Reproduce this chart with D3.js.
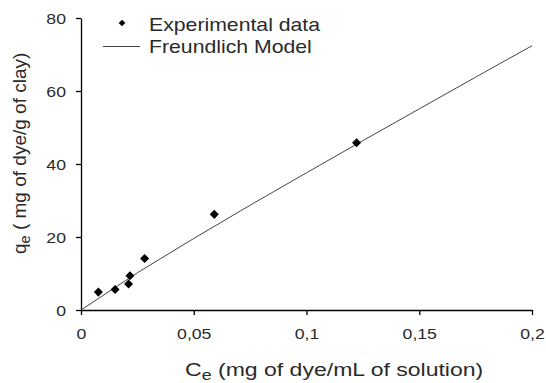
<!DOCTYPE html>
<html>
<head>
<meta charset="utf-8">
<script src="https://cdn.jsdelivr.net/npm/d3@7"></script>
<style>
  html, body { margin: 0; padding: 0; background: #fff; }
  svg { display: block; font-family: "Liberation Sans", Arial, sans-serif; }
</style>
</head>
<body>
<div id="chart"></div>
<script>
// experimental points (Ce, qe)
const expCe = [0.0077, 0.0151, 0.0211, 0.0217, 0.0282, 0.0591, 0.1222];
const expQe = [4.9, 5.6, 7.1, 9.4, 14.1, 26.2, 45.8];

// Freundlich model curve
const modelCe = [0, 0.025, 0.05, 0.075, 0.1, 0.125, 0.15, 0.175, 0.2];
const modelQe = [0, 10.2, 19.6, 28.7, 37.6, 46.4, 55.1, 63.8, 72.4];

const xTicks = [0, 0.05, 0.1, 0.15, 0.2];
const xTickLabels = ['0', '0,05', '0,1', '0,15', '0,2'];
const yTicks = [0, 20, 40, 60, 80];

const width = 546, height = 383;
const sx = 1.22; // the source picture looks stretched horizontally
const ink = '#2a2a2a';

const svg = d3.select('#chart').append('svg')
  .attr('width', width)
  .attr('height', height);

const x = d3.scaleLinear().domain([0, 0.2]).range([81, 532]);
const y = d3.scaleLinear().domain([0, 80]).range([310, 18]);

// axes
const xAxis = svg.append('g')
  .attr('transform', `translate(0,${y(0)})`)
  .call(d3.axisBottom(x).tickValues(xTicks)
    .tickFormat((d, i) => xTickLabels[i])
    .tickSizeInner(5).tickSizeOuter(0));

const yAxis = svg.append('g')
  .attr('transform', `translate(${x(0)},0)`)
  .call(d3.axisLeft(y).tickValues(yTicks)
    .tickSizeInner(5).tickSizeOuter(0));

[xAxis, yAxis].forEach(g => {
  g.select('.domain').attr('stroke', '#000').attr('stroke-width', 1.3);
  g.selectAll('.tick line').attr('stroke', '#000').attr('stroke-width', 1.3);
  g.selectAll('text')
    .attr('fill', ink)
    .style('font-size', '14.5px')
    .style('font-family', '"Liberation Sans", Arial, sans-serif');
});

xAxis.selectAll('text')
  .attr('y', 0).attr('dy', null)
  .attr('transform', `translate(0,29) scale(${sx},1)`);

yAxis.selectAll('text')
  .attr('x', 0).attr('dy', '0.35em')
  .attr('transform', `translate(-15,0) scale(${sx},1)`);

// model line
const line = d3.line()
  .x(i => x(modelCe[i]))
  .y(i => y(modelQe[i]));

svg.append('path')
  .datum(d3.range(modelCe.length))
  .attr('fill', 'none')
  .attr('stroke', '#444')
  .attr('stroke-width', 1)
  .attr('d', line);

// experimental points
const diamond = d3.symbol().type(d3.symbolDiamond2).size(52);

svg.append('g')
  .selectAll('path')
  .data(d3.range(expCe.length))
  .join('path')
  .attr('d', diamond)
  .attr('transform', i => `translate(${x(expCe[i])},${y(expQe[i])})`)
  .attr('fill', '#000');

// legend
const legend = svg.append('g');
legend.append('path')
  .attr('d', d3.symbol().type(d3.symbolDiamond2).size(28))
  .attr('transform', 'translate(122,23)')
  .attr('fill', '#000');
legend.append('line')
  .attr('x1', 103).attr('x2', 140)
  .attr('y1', 46.5).attr('y2', 46.5)
  .attr('stroke', '#444').attr('stroke-width', 1);

const legendText = ['Experimental data', 'Freundlich Model'];
legend.selectAll('text')
  .data(legendText)
  .join('text')
  .attr('transform', (d, i) => `translate(149,${30.5 + i * 22.5}) scale(1.18,1)`)
  .attr('fill', ink)
  .style('font-size', '18px')
  .text(d => d);

// axis titles
const xt = svg.append('text')
  .attr('transform', 'translate(185,376) scale(1.28,1)')
  .attr('fill', ink)
  .style('font-size', '18px');
xt.append('tspan').text('C');
xt.append('tspan').attr('dy', 4).style('font-size', '14px').text('e');
xt.append('tspan').attr('dy', -4).text(' (mg of dye/mL of solution)');

const yt = svg.append('text')
  .attr('transform', 'translate(26,254) rotate(-90)')
  .attr('fill', ink)
  .style('font-size', '19px');
yt.append('tspan').text('q');
yt.append('tspan').attr('dy', 4).style('font-size', '14.5px').text('e');
yt.append('tspan').attr('dy', -4).text(' ( mg of dye/g of clay)');
</script>
</body>
</html>
